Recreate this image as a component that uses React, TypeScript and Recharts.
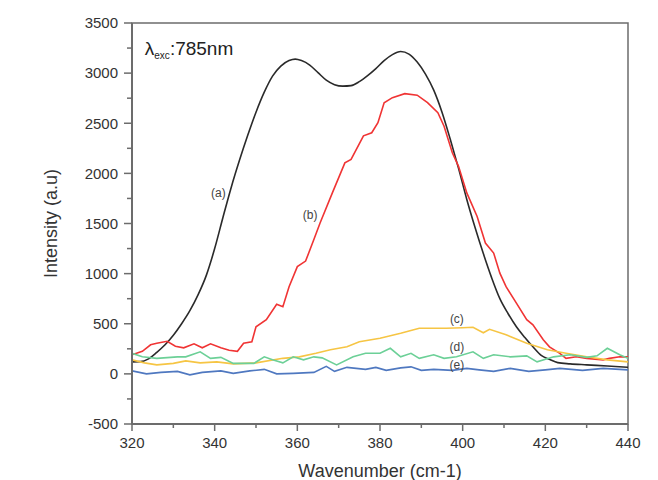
import { LineChart, Line, XAxis, YAxis, ReferenceArea, ReferenceDot } from "recharts";

const FONT = "'Liberation Sans', Arial, sans-serif";

// wavenumber (cm-1) / intensity pairs for each spectrum
const wnA = [320, 322, 324, 326, 328, 330, 332, 334, 336, 338, 340, 342, 344, 346, 348, 350, 352, 354, 356, 358, 359.5, 361, 363, 365, 367, 369, 371, 373, 375, 377, 379, 381, 383, 385, 387, 389, 391, 393, 395, 397, 399, 401, 403, 405, 407, 409, 411, 413, 415, 417, 419, 421, 423, 426, 430, 435, 440];
const intA = [120, 122, 150, 215, 290, 385, 500, 630, 790, 985, 1250, 1560, 1860, 2130, 2380, 2610, 2810, 2970, 3070, 3125, 3140, 3125, 3080, 3005, 2930, 2885, 2870, 2875, 2915, 2975, 3045, 3125, 3185, 3215, 3190, 3110, 2990, 2830, 2610, 2340, 2050, 1740, 1460, 1200, 960, 750, 600, 470, 365, 270, 185, 145, 112, 100, 90, 78, 65];

const wnB = [320, 322.5, 324.5, 326, 328.5, 330.5, 332.5, 335, 337, 339, 341.5, 343.5, 345.5, 347, 349, 350, 352.5, 355, 356.5, 358, 360, 362, 364, 365.5, 368.5, 371.5, 373, 376, 378, 379.5, 381, 383, 386, 389, 391.5, 394, 395.5, 397.5, 399, 401, 403.5, 405.5, 407.5, 409, 410.5, 413, 415.5, 417, 419.5, 421, 423.5, 425, 427.5, 430, 434, 435.5, 438, 440];
const intB = [190, 225, 290, 305, 325, 275, 260, 300, 260, 300, 260, 235, 225, 305, 320, 470, 540, 695, 670, 870, 1070, 1125, 1340, 1505, 1808, 2105, 2140, 2375, 2405, 2505, 2705, 2755, 2795, 2780, 2705, 2605, 2470, 2205, 2070, 1805, 1570, 1305, 1205, 1005, 870, 705, 540, 490, 340, 270, 205, 155, 170, 155, 140, 155, 170, 170];

const wnC = [320, 323, 326, 330, 333, 336.5, 340.5, 344.5, 350, 356.5, 360.5, 364.5, 368, 372, 375, 380, 385, 389.5, 396, 400, 402.5, 405, 406.5, 410.5, 415.5, 420.5, 425, 430, 435, 440];
const intC = [140, 110, 90, 105, 130, 110, 120, 100, 110, 155, 170, 205, 240, 270, 320, 355, 405, 455, 455, 460, 465, 410, 445, 390, 305, 240, 205, 170, 140, 120];

const wnD = [320, 322.5, 326, 331, 333, 336.5, 339, 341.5, 344.5, 349.5, 352, 354, 356.5, 359, 361.5, 364, 366, 369.5, 373.5, 376.5, 380, 382.5, 385, 387.5, 389.5, 393, 395.5, 398.5, 402.5, 405, 407.5, 411.5, 415.5, 418, 422, 426, 430, 432.5, 435, 438, 440];
const intD = [205, 170, 155, 170, 170, 220, 155, 165, 105, 105, 170, 140, 110, 170, 140, 170, 160, 90, 170, 205, 205, 255, 170, 205, 155, 190, 155, 170, 220, 155, 190, 170, 180, 120, 170, 190, 165, 180, 255, 190, 155];

const wnE = [320, 323.5, 327, 331, 334, 337, 341.5, 344.5, 348.5, 352, 355, 359, 364, 367, 369, 372, 376.5, 379, 381.5, 385, 387.5, 390, 393, 397.5, 401, 404, 407.5, 411.5, 416, 420, 423.5, 429, 434, 440];
const intE = [30, 0, 15, 25, -10, 15, 30, 5, 30, 45, 0, 5, 15, 75, 25, 65, 45, 65, 35, 60, 70, 35, 45, 35, 55, 40, 25, 55, 25, 40, 55, 35, 55, 40];

// major ticks carry labels, the ones in between are short unlabeled marks
const xTicks = [320, 330, 340, 350, 360, 370, 380, 390, 400, 410, 420, 430, 440];
const yTicks = [-500, -250, 0, 250, 500, 750, 1000, 1250, 1500, 1750, 2000, 2250, 2500, 2750, 3000, 3250, 3500];
const xMajorStep = 20;
const yMajorStep = 500;

// curve tags: [label, wavenumber, intensity]
const curveTags: [string, number, number][] = [
  ["(a)", 340.9, 1800],
  ["(b)", 363.1, 1585],
  ["(c)", 398.6, 545],
  ["(d)", 398.6, 272],
  ["(e)", 398.6, 90],
];

const toPoints = (wn: number[], vals: number[]) => wn.map((w, i) => ({ wn: w, v: vals[i] }));

const series = [
  { key: "a", data: toPoints(wnA, intA), color: "#2a2a2a", type: "monotone" as const },
  { key: "b", data: toPoints(wnB, intB), color: "#f03434", type: "linear" as const },
  { key: "c", data: toPoints(wnC, intC), color: "#f6c544", type: "linear" as const },
  { key: "d", data: toPoints(wnD, intD), color: "#6cd097", type: "linear" as const },
  { key: "e", data: toPoints(wnE, intE), color: "#4f78c0", type: "linear" as const },
];

const AXIS = "#6c6c6c";
const TICK_TEXT = { fill: "#333", fontSize: 15, fontFamily: FONT };

function XTick({ x, y, payload }: any) {
  const major = payload.value % xMajorStep === 0;
  const len = major ? 7 : 4;
  return (
    <g>
      <line x1={x} x2={x} y1={y} y2={y + len} stroke={AXIS} strokeWidth={1.5} />
      {major && (
        <text x={x} y={y + 13} dy="0.71em" textAnchor="middle" {...TICK_TEXT}>
          {payload.value}
        </text>
      )}
    </g>
  );
}

function YTick({ x, y, payload }: any) {
  const major = payload.value % yMajorStep === 0;
  const len = major ? 8 : 5;
  return (
    <g>
      <line x1={x - len} x2={x} y1={y} y2={y} stroke={AXIS} strokeWidth={1.5} />
      {major && (
        <text x={x - 14} y={y} dy="0.355em" textAnchor="end" {...TICK_TEXT}>
          {payload.value}
        </text>
      )}
    </g>
  );
}

export default function App() {
  return (
    <div style={{ position: "absolute", left: 0, top: 0 }}>
      <LineChart width={658} height={480} margin={{ top: 23, right: 30, bottom: 26, left: 72 }}>
        <XAxis
          type="number"
          dataKey="wn"
          domain={[320, 440]}
          ticks={xTicks}
          tickSize={0}
          tickMargin={0}
          tickLine={false}
          axisLine={{ stroke: AXIS, strokeWidth: 2 }}
          tick={<XTick />}
          height={30}
          allowDataOverflow
          label={{
            content: ({ viewBox }: any) => (
              <text x={viewBox.x + viewBox.width / 2} y={477} textAnchor="middle" fill="#333" fontSize={18} fontFamily={FONT}>
                Wavenumber (cm-1)
              </text>
            ),
          }}
        />
        <YAxis
          type="number"
          domain={[-500, 3500]}
          ticks={yTicks}
          tickSize={0}
          tickMargin={0}
          tickLine={false}
          axisLine={{ stroke: AXIS, strokeWidth: 2 }}
          tick={<YTick />}
          width={60}
          allowDataOverflow
          label={{
            content: ({ viewBox }: any) => {
              const cy = viewBox.y + viewBox.height / 2;
              return (
                <text x={57} y={cy} transform={`rotate(-90, 57, ${cy})`} textAnchor="middle" fill="#333" fontSize={18} fontFamily={FONT}>
                  Intensity (a.u)
                </text>
              );
            },
          }}
        />
        <ReferenceArea x1={320} x2={440} y1={-500} y2={3500} fill="none" stroke={AXIS} strokeWidth={1.5} ifOverflow="visible" />
        {series.map((s) => (
          <Line
            key={s.key}
            data={s.data}
            dataKey="v"
            type={s.type}
            stroke={s.color}
            strokeWidth={1.6}
            dot={false}
            isAnimationActive={false}
          />
        ))}
        {curveTags.map(([text, wn, v]) => (
          <ReferenceDot
            key={text}
            x={wn}
            y={v}
            r={0}
            fill="none"
            stroke="none"
            label={{
              content: ({ viewBox }: any) => (
                <text x={viewBox.x} y={viewBox.y + 4} textAnchor="middle" fill="#444" fontSize={12} fontFamily={FONT}>
                  {text}
                </text>
              ),
            }}
          />
        ))}
        <ReferenceDot
          x={323.1}
          y={3182}
          r={0}
          fill="none"
          stroke="none"
          label={{
            content: ({ viewBox }: any) => (
              <text x={viewBox.x} y={viewBox.y} fill="#222" fontSize={19} fontFamily={FONT}>
                <tspan>λ</tspan>
                <tspan fontSize={10} dy={4}>exc</tspan>
                <tspan dy={-4}>:785nm</tspan>
              </text>
            ),
          }}
        />
      </LineChart>
    </div>
  );
}
